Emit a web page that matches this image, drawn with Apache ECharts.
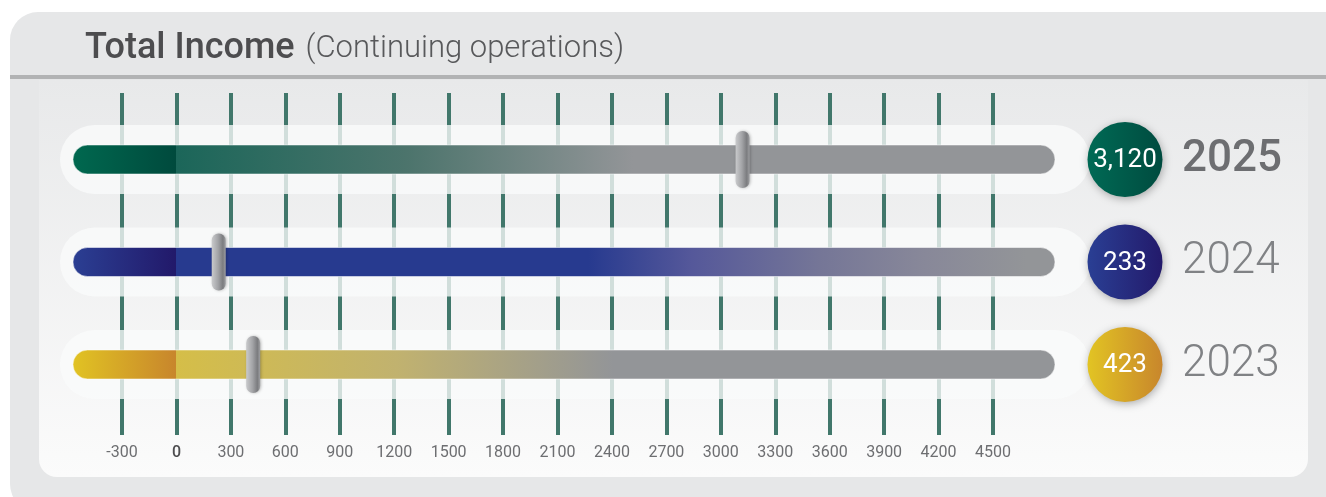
<!DOCTYPE html>
<html>
<head>
<meta charset="utf-8">
<script src="https://cdn.jsdelivr.net/npm/echarts@6/dist/echarts.min.js"></script>
<style>
  html, body { margin: 0; padding: 0; background: #ffffff; }
  #chart { width: 1326px; height: 497px; }
</style>
</head>
<body>
<div id="chart"></div>
<script>
// Total income per year (continuing operations)
const years = ['2025', '2024', '2023'];
const incomes = [3120, 233, 423];

// Scale of the gauge
const axisMin = -300;
const axisMax = 4500;
const axisStep = 300;

// Per-year colour themes: [track start, track at zero, after zero, fade points]
const themes = [
  { start: '#00684f', zeroDark: '#004a3d', zeroAfter: '#1b6659',
    fade: [[0.34, '#4c746c'], [0.57, '#939598']],
    disc: ['#006a55', '#004b3f'] },
  { start: '#2b3f93', zeroDark: '#22196a', zeroAfter: '#273a8f',
    fade: [[0.525, '#273a8f'], [0.63, '#55589a'], [0.76, '#757697'], [0.86, '#878799'], [0.97, '#939598']],
    disc: ['#2a3f94', '#231a6b'] },
  { start: '#e1c323', zeroDark: '#c8862c', zeroAfter: '#d5be48',
    fade: [[0.33, '#c1b26f'], [0.55, '#939598']],
    disc: ['#e2c423', '#c8862c'] }
];

const GRAY = '#939598';
const chart = echarts.init(document.getElementById('chart'), null, { renderer: 'canvas' });

const rowData = years.map((y, i) => [i, incomes[i]]);

function trackEnds(api) {
  const left = api.coord([axisMin, 0])[0] - 49;
  const right = api.coord([axisMax, 0])[0] + 62;
  return [left, right];
}

function rowCenter(api) {
  return api.coord([0, api.value(0)])[1];
}

// Soft white band behind each track
function renderPill(params, api) {
  const [l, r] = trackEnds(api);
  const cy = rowCenter(api);
  const h = 69;
  const x0 = l - 13, x1 = r + 35;
  return {
    type: 'rect',
    shape: { x: x0, y: cy - h / 2, width: x1 - x0, height: h, r: h / 2 },
    style: { fill: 'rgba(250,251,251,0.78)' }
  };
}

// Coloured track, hard break at zero, fading to gray
function renderTrack(params, api) {
  const [l, r] = trackEnds(api);
  const cy = rowCenter(api);
  const h = 29;
  const zeroX = api.coord([0, 0])[0];
  const zOff = (zeroX - l) / (r - l);
  const t = themes[params.dataIndex];
  const stops = [
    { offset: 0, color: t.start },
    { offset: zOff - 0.0005, color: t.zeroDark },
    { offset: zOff, color: t.zeroAfter }
  ];
  t.fade.forEach(f => stops.push({ offset: f[0], color: f[1] }));
  stops.push({ offset: 1, color: GRAY });
  return {
    type: 'rect',
    shape: { x: l, y: cy - h / 2, width: r - l, height: h, r: h / 2 },
    style: {
      fill: { type: 'linear', x: 0, y: 0, x2: 1, y2: 0, colorStops: stops },
      stroke: 'rgba(255,255,255,0.5)', lineWidth: 1
    }
  };
}

// Slider handle at the year's value
function renderHandle(params, api) {
  const pt = api.coord([api.value(1), api.value(0)]);
  const w = 14, h = 57;
  return {
    type: 'rect',
    shape: { x: pt[0] - w / 2, y: pt[1] - h / 2, width: w, height: h, r: w / 2 },
    style: {
      fill: { type: 'linear', x: 0, y: 0, x2: 1, y2: 0, colorStops: [
        { offset: 0, color: '#c9cacc' },
        { offset: 0.45, color: '#a3a4a7' },
        { offset: 0.8, color: '#7b7c7f' },
        { offset: 1, color: '#9fa0a3' }
      ] },
      shadowBlur: 3, shadowColor: 'rgba(0,0,0,0.25)', shadowOffsetX: 1
    }
  };
}

// Value disc at the end of each track
function renderDisc(params, api) {
  const [, r] = trackEnds(api);
  const cy = rowCenter(api);
  const cx = r + 70;
  const t = themes[params.dataIndex];
  return {
    type: 'group',
    children: [
      {
        type: 'circle',
        shape: { cx: cx, cy: cy, r: 37.5 },
        style: {
          fill: { type: 'linear', x: 0, y: 0, x2: 1, y2: 0, colorStops: [
            { offset: 0, color: t.disc[0] }, { offset: 1, color: t.disc[1] }
          ] },
          shadowBlur: 8, shadowColor: 'rgba(0,0,0,0.3)', shadowOffsetX: 1, shadowOffsetY: 2
        }
      },
      {
        type: 'text',
        x: cx, y: cy + 1,
        style: {
          text: api.value(1).toLocaleString('en-US'),
          fill: '#ffffff', fontSize: 26, fontFamily: 'Roboto',
          align: 'center', verticalAlign: 'middle'
        }
      }
    ]
  };
}

const option = {
  animation: false,
  backgroundColor: '#ffffff',
  title: {
    left: 80, top: 26,
    text: '{a|Total Income}{b|(Continuing operations)}',
    textStyle: {
      rich: {
        a: { fontFamily: 'Roboto', fontSize: 36, fontWeight: 500, color: '#4d4d4f', padding: [0, 11, 0, 0] },
        b: { fontFamily: 'Roboto', fontSize: 31, fontWeight: 300, color: '#58595b' }
      }
    }
  },
  graphic: [
    { type: 'rect', z: -10, shape: { x: 10, y: 12, width: 1350, height: 500, r: 28 },
      style: { fill: '#e6e7e8' } },
    { type: 'rect', z: -9, shape: { x: 10, y: 75, width: 1330, height: 4 },
      style: { fill: '#b2b3b4' } },
    { type: 'rect', z: -9, shape: { x: 39, y: 80, width: 1269, height: 397, r: [0, 0, 18, 18] },
      style: { fill: { type: 'linear', x: 0, y: 0, x2: 0, y2: 1, colorStops: [
        { offset: 0, color: '#e8e9ea' }, { offset: 1, color: '#fbfbfb' }
      ] } } }
  ],
  grid: [
    { left: 122, right: 333, top: 93, bottom: 62 },
    { left: 122, right: 333, top: 108.25, bottom: 81.25 }
  ],
  xAxis: [
    {
      gridIndex: 0, type: 'value', min: axisMin, max: axisMax, interval: axisStep,
      axisLine: { show: false }, axisTick: { show: false },
      splitLine: { show: true, lineStyle: { color: '#41776b', width: 4 } },
      axisLabel: {
        margin: 10, fontSize: 16, fontFamily: 'Roboto', fontWeight: 400, color: '#6d6e71',
        formatter: v => v === 0 ? '{z|0}' : String(v),
        rich: { z: { fontSize: 16, fontFamily: 'Roboto', fontWeight: 500, color: '#4d4d4f' } }
      }
    },
    {
      gridIndex: 1, type: 'value', min: axisMin, max: axisMax, interval: axisStep,
      show: false
    }
  ],
  yAxis: [
    { gridIndex: 0, type: 'value', show: false },
    {
      gridIndex: 1, type: 'category', data: years, inverse: true, position: 'right',
      axisLine: { show: false }, axisTick: { show: false }, splitLine: { show: false },
      axisLabel: {
        margin: 189, align: 'left',
        formatter: (v, i) => i === 0 ? '{cur|' + v + '}' : '{past|' + v + '}',
        rich: {
          cur: { fontFamily: 'Roboto', fontSize: 44, fontWeight: 500, color: '#6d6e71' },
          past: { fontFamily: 'Roboto', fontSize: 44, fontWeight: 300, color: '#808285' }
        }
      }
    }
  ],
  series: [
    { type: 'custom', name: 'band', xAxisIndex: 1, yAxisIndex: 1, z: 1, clip: false,
      data: rowData, encode: { x: 1, y: 0 }, renderItem: renderPill, silent: true },
    { type: 'custom', name: 'track', xAxisIndex: 1, yAxisIndex: 1, z: 2, clip: false,
      data: rowData, encode: { x: 1, y: 0 }, renderItem: renderTrack },
    { type: 'custom', name: 'handle', xAxisIndex: 1, yAxisIndex: 1, z: 3, clip: false,
      data: rowData, encode: { x: 1, y: 0 }, renderItem: renderHandle },
    { type: 'custom', name: 'disc', xAxisIndex: 1, yAxisIndex: 1, z: 4, clip: false,
      data: rowData, encode: { x: 1, y: 0 }, renderItem: renderDisc }
  ]
};

chart.setOption(option);
</script>
</body>
</html>
